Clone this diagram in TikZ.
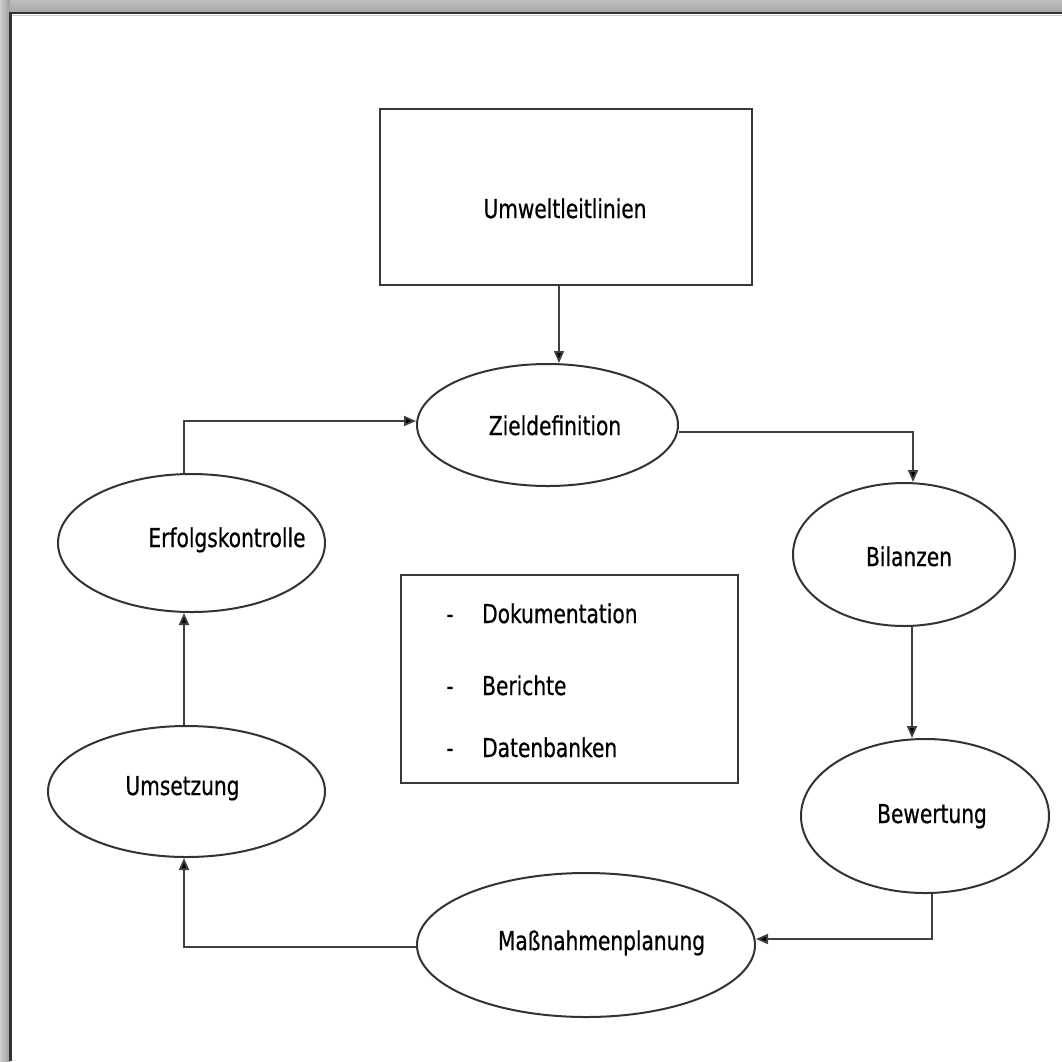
\documentclass[tikz,border=0pt]{standalone}
\usepackage{fontspec}
\setmainfont{DejaVu Sans}[FakeStretch=0.775,FakeBold=0.6]
\usetikzlibrary{shapes.geometric,arrows.meta}
\tikzset{
  oval/.style={ellipse, draw=black!80, line width=2pt, inner sep=0pt},
  boxshape/.style={rectangle, draw=black!78, line width=2.2pt, inner sep=0pt},
  lbl/.style={anchor=base, inner sep=0pt, font=\fontsize{26}{30}\selectfont, text=black},
  arr/.style={draw=black!75, line width=1.8pt, -{Triangle[length=12pt,width=10pt,fill=black]}},
}
\begin{document}
\begin{tikzpicture}[x=1pt,y=-1pt]
\useasboundingbox (0,0) rectangle (1062,1061);
% frame
\fill[white] (0,0) rectangle (1062,1061);
\shade[top color=black!25, bottom color=black!35] (0,0) rectangle (1062,12);
\shade[left color=black!20, right color=black!38] (0,0) rectangle (10,1061);
\draw[black!20, line width=1pt] (12,15.5) -- (1062,15.5);
\draw[black!80, line width=2.6pt] (10.3,1061) -- (10.3,13) -- (1062,13);
% shapes
\node[boxshape, minimum width=372pt, minimum height=176pt] (umwelt) at (566,197) {};
\node[oval, minimum width=261pt, minimum height=122pt] (ziel) at (547.5,425) {};
\node[oval, minimum width=222pt, minimum height=143pt] (bil) at (904,554.5) {};
\node[oval, minimum width=248pt, minimum height=154pt] (bew) at (925,816) {};
\node[oval, minimum width=338pt, minimum height=144pt] (mass) at (586,945) {};
\node[oval, minimum width=277pt, minimum height=131pt] (umset) at (186.5,791.5) {};
\node[oval, minimum width=267pt, minimum height=138pt] (erf) at (191.5,543) {};
\node[boxshape, minimum width=337pt, minimum height=208pt] (docbox) at (569.5,679) {};
% texts
\node[lbl] (umwelt-t) at (565,218) {Umweltleitlinien};
\node[lbl] (ziel-t) at (555,435) {Zieldefinition};
\node[lbl] (bil-t) at (909,566) {Bilanzen};
\node[lbl] (bew-t) at (932,823) {Bewertung};
\node[lbl] (mass-t) at (601.5,950) {Maßnahmenplanung};
\node[lbl] (umset-t) at (182.5,795) {Umsetzung};
\node[lbl] (erf-t) at (227,547) {Erfolgskontrolle};
\node[lbl] (d1) at (450,623) {-};
\node[lbl, anchor=base west] (doc1) at (482,623) {Dokumentation};
\node[lbl] (d2) at (450,695) {-};
\node[lbl, anchor=base west] (doc2) at (482,695) {Berichte};
\node[lbl] (d3) at (450,757) {-};
\node[lbl, anchor=base west] (doc3) at (482,757) {Datenbanken};
% connectors
\draw[arr] ([xshift=-7pt]umwelt.south) -- ([xshift=-7pt]umwelt.south |- ziel.north);
\draw[arr] ([yshift=-7pt]ziel.east) -| ([xshift=9pt]bil.north);
\draw[arr] ([xshift=8pt]bil.south) -- ([xshift=8pt]bil.south |- bew.north);
\draw[arr] ([xshift=7pt]bew.south) |- ([yshift=6pt]mass.east);
\draw[arr] ([yshift=-2pt]mass.west) -| ([xshift=-2.5pt]umset.south);
\draw[arr] ([xshift=-2.5pt]umset.north) -- ([xshift=-2.5pt]umset.north |- erf.south);
\draw[arr] ([xshift=-7.5pt]erf.north) |- ([yshift=4pt]ziel.west);
\end{tikzpicture}
\end{document}
